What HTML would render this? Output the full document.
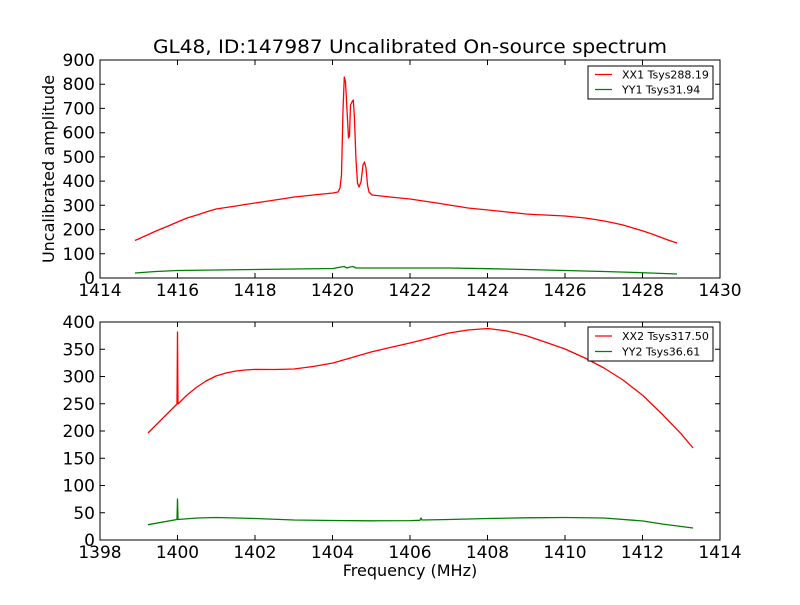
<!DOCTYPE html>
<html><head><meta charset="utf-8"><style>body{margin:0;background:#fff}</style></head><body>
<svg width="800" height="600" xmlns="http://www.w3.org/2000/svg" font-family="DejaVu Sans, Liberation Sans, sans-serif">
<rect width="800" height="600" fill="#fff"/>
<text x="410" y="53" font-size="19" text-anchor="middle" textLength="514" lengthAdjust="spacingAndGlyphs">GL48, ID:147987 Uncalibrated On-source spectrum</text>
<!-- top -->
<g fill="none" stroke-width="1.3" stroke-linejoin="round">
<polyline stroke="#f00" points="135,240.5 145,236 156,231 167,226.5 177.5,222 187,218 197,215 206,212 216,209 226,207.5 236,206 245,204.5 255,203 265,201.5 275,200 285,198.5 294,197 304,196 313,195 323,194 333,193 338,192 340,188 341.5,175 343,110 344.3,77 345.5,82 347,110 348.5,138 349.5,136 350.5,105 351.5,103 352.5,101 353.3,100 354.3,115 356,160 357.5,183 359,187 361,182 363,165 364.5,162 366,168 367.5,185 369,192 372,195 381,196 390,197 400,198 410,199 420,200.5 430,202 440,203.5 449,205 459,206.5 468,208 478,209 488,210 498,211 507,212 517,213 526,214 536,214.6 545,215 555,215.5 565,216 575,217 585,218 595,219.5 604,221 614,223 623,225 633,228 643,231 652,234 660,237 668,240 677,243"/>
<polyline stroke="#008000" points="135,273 156,271.5 177.5,270.5 216,270 255,269.5 294,269 333,268.5 341,267 344,266.5 347,268 350,267 353,266.5 356,268 372,268 410,268 449,268 488,268.7 526,269.5 565,270.5 604,271.5 640,272.6 677,274"/>
</g>
<rect x="100" y="60" width="620" height="218" fill="none" stroke="#000"/>
<g stroke="#000">
<path d="M100,278v-5M177.5,278v-5M255,278v-5M332.5,278v-5M410,278v-5M487.5,278v-5M565,278v-5M642.5,278v-5M720,278v-5M100,60v5M177.5,60v5M255,60v5M332.5,60v5M410,60v5M487.5,60v5M565,60v5M642.5,60v5"/>
<path d="M100,253.8h5M100,229.6h5M100,205.3h5M100,181.1h5M100,156.9h5M100,132.7h5M100,108.4h5M100,84.2h5M720,253.8h-5M720,229.6h-5M720,205.3h-5M720,181.1h-5M720,156.9h-5M720,132.7h-5M720,108.4h-5M720,84.2h-5"/>
</g>
<g font-size="17" text-anchor="middle">
<text x="100" y="296">1414</text><text x="177.5" y="296">1416</text><text x="255" y="296">1418</text><text x="332.5" y="296">1420</text><text x="410" y="296">1422</text><text x="487.5" y="296">1424</text><text x="565" y="296">1426</text><text x="642.5" y="296">1428</text><text x="720" y="296">1430</text>
</g>
<g font-size="17" text-anchor="end">
<text x="95" y="284">0</text><text x="95" y="259.8">100</text><text x="95" y="235.6">200</text><text x="95" y="211.3">300</text><text x="95" y="187.1">400</text><text x="95" y="162.9">500</text><text x="95" y="138.7">600</text><text x="95" y="114.4">700</text><text x="95" y="90.2">800</text><text x="95" y="66">900</text>
</g>
<text transform="translate(54,169) rotate(-90)" font-size="16" text-anchor="middle">Uncalibrated amplitude</text>
<rect x="588" y="66" width="125" height="33" fill="#fff" stroke="#000"/>
<line x1="595" y1="74.5" x2="612" y2="74.5" stroke="#f00" stroke-width="1.3"/>
<line x1="595" y1="89.5" x2="612" y2="89.5" stroke="#008000" stroke-width="1.3"/>
<text x="622" y="78.5" font-size="11">XX1 Tsys288.19</text>
<text x="622" y="93.5" font-size="11">YY1 Tsys31.94</text>
<!-- bottom -->
<g fill="none" stroke-width="1.3" stroke-linejoin="round">
<polyline stroke="#f00" points="148,433 160,421 170,411 177,404 177.5,332 178,404 187,395 197,387 206,381 216,376 226,373 236,371 245,370 255,369.4 275,369.5 294,369 313,366.5 333,363 352,357.5 371,352 390,347.5 410,343 430,338 449,333 468,330 488,328.5 507,331 526,335.6 545,342 565,349 585,358 604,368 623,380 643,395.6 662,414 681,433.7 693,448"/>
<polyline stroke="#008000" points="148,524.7 177,519.5 177.5,499 178,519.5 197,518 216,517.5 236,518 255,518.5 294,520 333,520.5 371,520.8 410,520.6 420,520.3 421,518 422,520 449,519.5 488,518.5 526,517.8 565,517.5 604,518 643,521 662,524 693,528"/>
</g>
<rect x="100" y="322" width="620" height="218" fill="none" stroke="#000"/>
<g stroke="#000">
<path d="M100,540v-5M177.5,540v-5M255,540v-5M332.5,540v-5M410,540v-5M487.5,540v-5M565,540v-5M642.5,540v-5M100,322v5M177.5,322v5M255,322v5M332.5,322v5M410,322v5M487.5,322v5M565,322v5M642.5,322v5"/>
<path d="M100,512.75h5M100,485.5h5M100,458.25h5M100,431h5M100,403.75h5M100,376.5h5M100,349.25h5M720,512.75h-5M720,485.5h-5M720,458.25h-5M720,431h-5M720,403.75h-5M720,376.5h-5M720,349.25h-5"/>
</g>
<g font-size="17" text-anchor="middle">
<text x="100" y="558">1398</text><text x="177.5" y="558">1400</text><text x="255" y="558">1402</text><text x="332.5" y="558">1404</text><text x="410" y="558">1406</text><text x="487.5" y="558">1408</text><text x="565" y="558">1410</text><text x="642.5" y="558">1412</text><text x="720" y="558">1414</text>
</g>
<g font-size="17" text-anchor="end">
<text x="95" y="546">0</text><text x="95" y="518.75">50</text><text x="95" y="491.5">100</text><text x="95" y="464.25">150</text><text x="95" y="437">200</text><text x="95" y="409.75">250</text><text x="95" y="382.5">300</text><text x="95" y="355.25">350</text><text x="95" y="328">400</text>
</g>
<text x="410" y="576" font-size="16" text-anchor="middle">Frequency (MHz)</text>
<rect x="588" y="327" width="125" height="34" fill="#fff" stroke="#000"/>
<line x1="595" y1="336" x2="612" y2="336" stroke="#f00" stroke-width="1.3"/>
<line x1="595" y1="351.5" x2="612" y2="351.5" stroke="#008000" stroke-width="1.3"/>
<text x="622" y="340" font-size="11">XX2 Tsys317.50</text>
<text x="622" y="355.5" font-size="11">YY2 Tsys36.61</text>
</svg>
</body></html>
